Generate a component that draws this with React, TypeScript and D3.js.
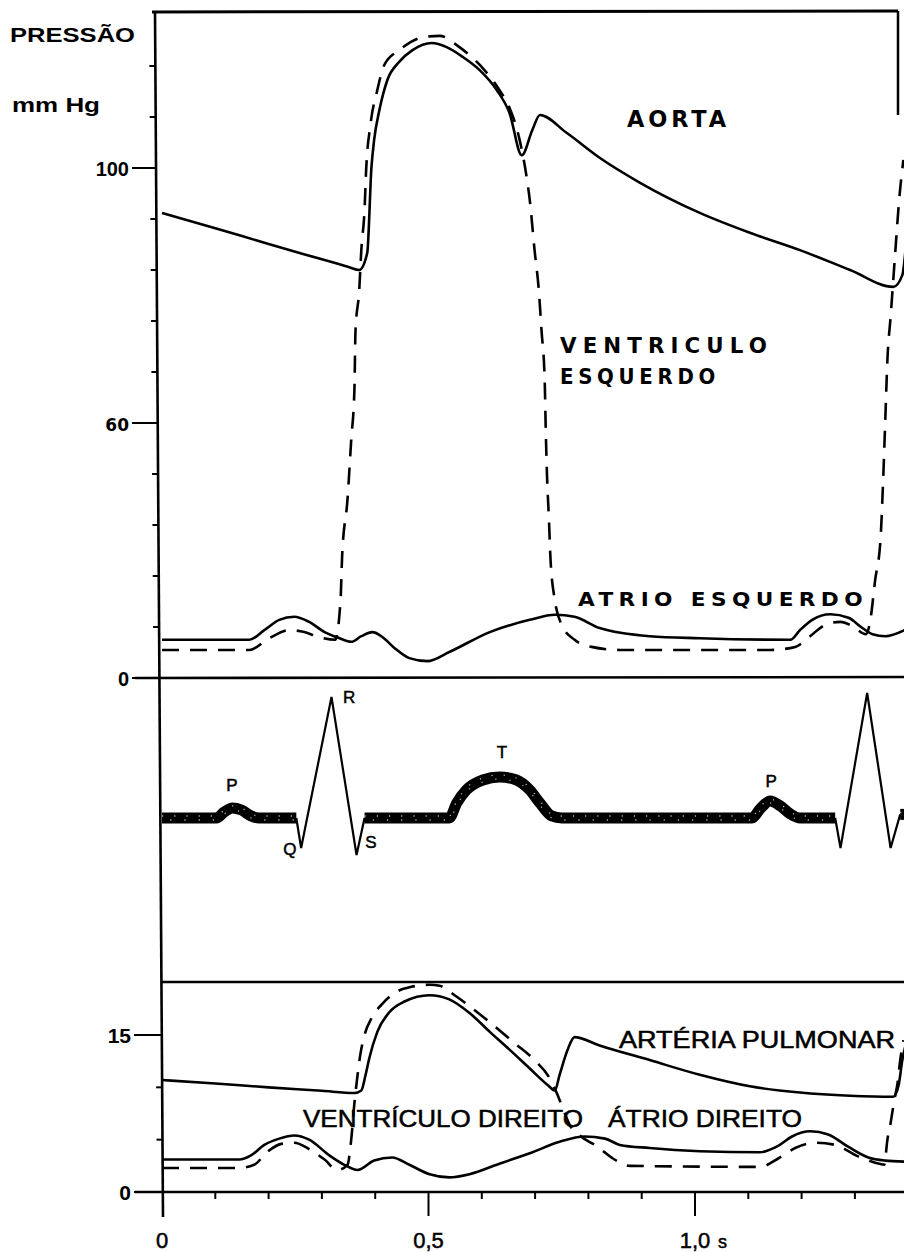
import React from "react";
import * as d3 from "d3";

// [time s, pressure mm Hg]
const aorta: [number, number][] = [
  [0, 91.2], [0.1, 88.2], [0.2, 85.1], [0.3, 82.1], [0.35, 80.6], [0.37, 80.0], [0.385, 83.3],
  [0.393, 100.2], [0.398, 105.5], [0.408, 111.4], [0.423, 117.3], [0.445, 120.8], [0.47, 123.1],
  [0.506, 124.5], [0.534, 123.7], [0.564, 121.8], [0.596, 119.2], [0.628, 115.3], [0.652, 110.8],
  [0.675, 102.5], [0.695, 107.5], [0.709, 110.4], [0.759, 106.9], [0.821, 102.0], [0.897, 97.1],
  [1.009, 91.2], [1.103, 87.3], [1.197, 83.9], [1.291, 80.0], [1.372, 76.7], [1.389, 79.0],
  [1.395, 84.0],
];

const leftVentricle: [number, number][] = [
  [0, 5.5], [0.164, 5.5], [0.201, 7.8], [0.239, 9.4], [0.267, 9.0], [0.295, 8.0], [0.325, 7.5],
  [0.335, 15.3], [0.338, 24], [0.348, 35], [0.355, 46.7], [0.361, 56.5], [0.363, 68], [0.37, 76],
  [0.374, 84], [0.38, 91.8], [0.383, 99.6], [0.391, 108.4], [0.404, 115.3], [0.417, 120.2],
  [0.445, 123.1], [0.492, 125.7], [0.521, 125.9], [0.558, 123.7], [0.605, 119.2], [0.633, 115.3],
  [0.652, 111.8], [0.671, 105.5], [0.682, 99.6], [0.69, 93.7], [0.699, 83.9], [0.707, 76],
  [0.712, 68.2], [0.718, 58.4], [0.72, 48.6], [0.722, 40.8], [0.726, 31], [0.729, 23.1],
  [0.737, 15.3], [0.75, 10.4], [0.774, 7.5], [0.806, 6.1], [0.859, 5.5], [1.141, 5.5],
  [1.188, 6.1], [1.216, 8.2], [1.244, 10.4], [1.273, 11.0], [1.295, 10.2], [1.321, 8.6],
  [1.329, 11.4], [1.338, 19.2], [1.348, 27.1], [1.353, 38.8], [1.357, 50.6], [1.361, 62.4],
  [1.367, 70.8], [1.376, 83.9], [1.383, 93.7], [1.391, 101.6],
];

const leftAtrium: [number, number][] = [
  [0, 7.5], [0.164, 7.5], [0.192, 9.4], [0.22, 11.4], [0.248, 12.0], [0.276, 11.0], [0.305, 9.0],
  [0.333, 7.8], [0.355, 7.1], [0.374, 8.2], [0.395, 9.0], [0.414, 8.0], [0.436, 5.9], [0.464, 3.9],
  [0.498, 3.3], [0.539, 5.1], [0.615, 9.0], [0.69, 11.4], [0.737, 12.4], [0.774, 12.0],
  [0.821, 9.8], [0.915, 8.2], [1.009, 7.8], [1.179, 7.5], [1.197, 9.4], [1.22, 11.4],
  [1.254, 12.5], [1.288, 11.8], [1.314, 9.8], [1.333, 8.6], [1.357, 8.2], [1.393, 9.4],
];

const pulmonaryArtery: [number, number][] = [
  [0, 10.7], [0.1, 10.36], [0.2, 10.0], [0.3, 9.67], [0.361, 9.46], [0.374, 9.7], [0.382, 11.2],
  [0.389, 12.8], [0.404, 15.3], [0.427, 17.2], [0.455, 18.2], [0.502, 18.8], [0.539, 18.4],
  [0.577, 17.1], [0.615, 15.3], [0.652, 13.6], [0.69, 11.8], [0.724, 10.2], [0.737, 9.7],
  [0.746, 11.2], [0.761, 13.6], [0.774, 14.8], [0.821, 14.0], [0.915, 12.6], [1.009, 11.2],
  [1.103, 10.1], [1.197, 9.5], [1.291, 9.2], [1.372, 9.1], [1.382, 10.2], [1.389, 12.6],
  [1.395, 14.0],
];

const rightVentricle: [number, number][] = [
  [0, 2.3], [0.145, 2.3], [0.173, 2.6], [0.197, 3.8], [0.224, 4.6], [0.248, 4.7], [0.276, 4.1],
  [0.305, 3.1], [0.329, 2.1], [0.348, 2.6], [0.355, 5.0], [0.361, 8.5], [0.367, 11.2],
  [0.372, 13.1], [0.38, 15.0], [0.393, 16.6], [0.412, 17.9], [0.436, 19.0], [0.468, 19.6],
  [0.502, 19.8], [0.521, 19.7], [0.549, 18.8], [0.581, 17.6], [0.62, 16.0], [0.662, 14.2],
  [0.699, 12.6], [0.727, 10.9], [0.742, 9.3], [0.752, 8.0], [0.765, 6.4], [0.784, 5.4],
  [0.818, 4.3], [0.846, 3.2], [0.878, 2.5], [1.122, 2.4], [1.156, 3.2], [1.188, 4.2],
  [1.226, 4.7], [1.263, 4.5], [1.306, 3.4], [1.338, 2.8], [1.355, 2.6], [1.361, 5.0],
  [1.367, 6.6], [1.374, 8.8], [1.38, 10.4], [1.385, 12.6], [1.391, 14.5],
];

const rightAtrium: [number, number][] = [
  [0, 3.1], [0.145, 3.1], [0.167, 3.5], [0.192, 4.5], [0.22, 5.1], [0.248, 5.4], [0.276, 5.0],
  [0.314, 3.5], [0.342, 2.6], [0.367, 2.1], [0.398, 3.0], [0.432, 3.3], [0.464, 2.6],
  [0.502, 1.7], [0.539, 1.4], [0.577, 1.7], [0.633, 2.7], [0.69, 3.7], [0.746, 4.8],
  [0.793, 5.3], [0.831, 5.1], [0.859, 4.5], [0.915, 4.2], [1.009, 3.9], [1.122, 3.8],
  [1.156, 4.4], [1.182, 5.3], [1.216, 5.8], [1.25, 5.5], [1.288, 4.3], [1.325, 3.3],
  [1.357, 3.0], [1.393, 2.9],
];

// ECG: [time s, amplitude relative to R]
const ecgWaves: [number, number][] = [
  [0, 0], [0.102, 0], [0.117, 0.05], [0.132, 0.083], [0.149, 0.066], [0.167, 0.017], [0.182, 0],
  [0.252, 0],
];
const ecgQrs1: [number, number][] = [[0.252, 0], [0.261, -0.248], [0.318, 1.0], [0.365, -0.306], [0.38, 0]];
const ecgMid: [number, number][] = [
  [0.38, 0], [0.539, 0], [0.553, 0.124], [0.571, 0.231], [0.602, 0.314], [0.633, 0.339],
  [0.665, 0.314], [0.69, 0.231], [0.709, 0.124], [0.731, 0.017], [0.75, 0], [1.107, 0],
  [1.122, 0.074], [1.141, 0.14], [1.16, 0.1], [1.179, 0.033], [1.197, 0], [1.263, 0],
];
const ecgQrs2: [number, number][] = [[1.263, 0], [1.273, -0.248], [1.323, 1.033], [1.367, -0.248], [1.385, 0.03]];
const ecgTail: [number, number][] = [[1.385, 0.03], [1.395, 0.03]];
const ecgLetters: [number, number, string][] = [
  [0.131, 0.22, "P"], [0.351, 0.95, "R"], [0.24, -0.306, "Q"], [0.392, -0.248, "S"],
  [0.638, 0.496, "T"], [1.143, 0.256, "P"],
];

const xTicks = [0, 0.1, 0.2, 0.3, 0.4, 0.5, 0.6, 0.7, 0.8, 0.9, 1.0, 1.1, 1.2, 1.3];
const xLongTicks = [0.5, 1.0];
const xTickLabels: [number, string][] = [[0, "0"], [0.5, "0,5"], [1.0, "1,0"]];
const topMinorTicks = [10, 20, 30, 40, 60, 70, 80, 90, 110, 120];
const topTickLabels: [number, string][] = [[100, "100"], [50, "60"], [0, "0"]];
const bottomMinorTicks = [5, 10];
const bottomTickLabels: [number, string][] = [[15, "15"], [0, "0"]];

const W = 904;
const H = 1252;

export default function App() {
  const x = d3.scaleLinear().domain([0, 1]).range([162, 695]);
  const yTop = d3.scaleLinear().domain([0, 100]).range([678, 168]);
  const yEcg = d3.scaleLinear().domain([0, 1]).range([818, 697]);
  const yBot = d3.scaleLinear().domain([0, 15]).range([1192, 1035]);

  const lineTop = d3.line<[number, number]>().x(d => x(d[0])).y(d => yTop(d[1])).curve(d3.curveMonotoneX);
  const lineBot = d3.line<[number, number]>().x(d => x(d[0])).y(d => yBot(d[1])).curve(d3.curveMonotoneX);
  const ecgSmooth = d3.line<[number, number]>().x(d => x(d[0])).y(d => yEcg(d[1])).curve(d3.curveMonotoneX);
  const ecgSharp = d3.line<[number, number]>().x(d => x(d[0])).y(d => yEcg(d[1]));

  // left axis is slightly slanted in the scan
  const axisX = (y: number) => 155 + ((y - 12) / 1205) * 8;

  const solid = { fill: "none", stroke: "#000", strokeWidth: 2.6, strokeLinejoin: "round" as const };
  const dashed = { ...solid, strokeDasharray: "17 11" };
  const band = (d: [number, number][], key: string) => (
    <g key={key}>
      <path d={ecgSmooth(d) || ""} fill="none" stroke="#000" strokeWidth={11} />
      <path d={ecgSmooth(d) || ""} fill="none" stroke="#fff" strokeWidth={1.3} strokeDasharray="1.2 11" transform="translate(0,-2)" opacity={0.7} />
      <path d={ecgSmooth(d) || ""} fill="none" stroke="#fff" strokeWidth={1.3} strokeDasharray="1.2 13" strokeDashoffset={6} transform="translate(0,2)" opacity={0.7} />
    </g>
  );

  const bold = { fontFamily: "Liberation Sans, Arial, sans-serif", fontWeight: 700, fill: "#000" };
  const block = { fontFamily: "DejaVu Sans, sans-serif", fontWeight: 700, fill: "#000" };
  const plain = { fontFamily: "Liberation Sans, Arial, sans-serif", fill: "#000", stroke: "#000", strokeWidth: 0.5 };

  return (
    <svg width={W} height={H} style={{ position: "absolute", left: 0, top: 0, background: "#fff" }}>
      <rect x={0} y={0} width={W} height={H} fill="#fff" />

      {/* frame */}
      <line x1={152} y1={12} x2={898} y2={11} stroke="#000" strokeWidth={3} />
      <line x1={898} y1={11} x2={898} y2={115} stroke="#000" strokeWidth={2.5} />
      <line x1={axisX(12)} y1={12} x2={axisX(1217)} y2={1217} stroke="#000" strokeWidth={2.6} />
      <line x1={135} y1={yTop(0)} x2={W} y2={yTop(0) - 1} stroke="#000" strokeWidth={2.6} />
      <line x1={axisX(982)} y1={982} x2={W} y2={982} stroke="#000" strokeWidth={2.6} />
      <line x1={135} y1={yBot(0)} x2={W} y2={yBot(0)} stroke="#000" strokeWidth={2.6} />

      {/* y ticks, top panel */}
      {topMinorTicks.map(v => (
        <line key={"tm" + v} x1={axisX(yTop(v)) - 6} y1={yTop(v)} x2={axisX(yTop(v))} y2={yTop(v)} stroke="#000" strokeWidth={2} />
      ))}
      {topTickLabels.map(([v, s]) => (
        <g key={"tl" + v}>
          <line x1={132} y1={yTop(v)} x2={axisX(yTop(v))} y2={yTop(v)} stroke="#000" strokeWidth={2} />
          <text x={129} y={yTop(v) + 8} textAnchor="end" fontSize={s === "60" ? 17 : 20} style={s === "60" ? block : bold}>{s}</text>
        </g>
      ))}
      {/* y ticks, bottom panel */}
      {bottomMinorTicks.map(v => (
        <line key={"bm" + v} x1={axisX(yBot(v)) - 6} y1={yBot(v)} x2={axisX(yBot(v))} y2={yBot(v)} stroke="#000" strokeWidth={2} />
      ))}
      {bottomTickLabels.map(([v, s]) => (
        <g key={"bl" + v}>
          <line x1={134} y1={yBot(v)} x2={axisX(yBot(v))} y2={yBot(v)} stroke="#000" strokeWidth={2} />
          <text x={131} y={yBot(v) + 8} textAnchor="end" fontSize={21} style={bold}>{s}</text>
        </g>
      ))}

      {/* x ticks */}
      {xTicks.filter(t => t > 0).map(t => (
        <line key={"xt" + t} x1={x(t)} y1={yBot(0)} x2={x(t)} y2={yBot(0) + (xLongTicks.includes(t) ? 24 : 7)} stroke="#000" strokeWidth={2} />
      ))}
      {xTickLabels.map(([t, s]) => (
        <text key={"xl" + t} x={x(t)} y={1248} textAnchor="middle" fontSize={22} style={plain}>{s}</text>
      ))}
      <text x={718} y={1248} fontSize={18} style={plain}>s</text>

      {/* titles */}
      <text x={10} y={42} fontSize={21} style={bold} textLength={125} lengthAdjust="spacingAndGlyphs">PRESSÃO</text>
      <text x={12} y={112} fontSize={20} style={bold} textLength={88} lengthAdjust="spacingAndGlyphs">mm  Hg</text>

      {/* top panel curves */}
      <path d={lineTop(aorta) || ""} style={solid} />
      <path d={lineTop(leftAtrium) || ""} style={solid} />
      <path d={lineTop(leftVentricle) || ""} style={dashed} />

      <text x={627} y={127} fontSize={23} letterSpacing={4} style={block} textLength={103} lengthAdjust="spacingAndGlyphs">AORTA</text>
      <text x={560} y={353} fontSize={21} letterSpacing={6} style={block} textLength={213} lengthAdjust="spacingAndGlyphs">VENTRICULO</text>
      <text x={560} y={384} fontSize={21} letterSpacing={5} style={block} textLength={160} lengthAdjust="spacingAndGlyphs">ESQUERDO</text>
      <text x={578} y={606} fontSize={20} letterSpacing={5} style={block} textLength={290} lengthAdjust="spacingAndGlyphs">ATRIO  ESQUERDO</text>

      {/* ECG */}
      {band(ecgWaves, "w1")}
      {band(ecgMid, "w2")}
      {band(ecgTail, "w3")}
      <path d={ecgSharp(ecgQrs1) || ""} fill="none" stroke="#000" strokeWidth={2.2} strokeLinejoin="miter" />
      <path d={ecgSharp(ecgQrs2) || ""} fill="none" stroke="#000" strokeWidth={2.2} strokeLinejoin="miter" />
      {ecgLetters.map(([t, v, s], i) => (
        <text key={"e" + i} x={x(t)} y={yEcg(v)} textAnchor="middle" fontSize={17} style={plain}>{s}</text>
      ))}

      {/* bottom panel curves */}
      <path d={lineBot(pulmonaryArtery) || ""} style={solid} />
      <path d={lineBot(rightAtrium) || ""} style={solid} />
      <path d={lineBot(rightVentricle) || ""} style={dashed} />

      <text x={619} y={1048} fontSize={23} style={plain} textLength={276} lengthAdjust="spacingAndGlyphs">ARTÉRIA PULMONAR</text>
      <text x={303} y={1127} fontSize={23} style={plain} textLength={280} lengthAdjust="spacingAndGlyphs">VENTRÍCULO DIREITO</text>
      <text x={608} y={1127} fontSize={23} style={plain} textLength={194} lengthAdjust="spacingAndGlyphs">ÁTRIO DIREITO</text>
    </svg>
  );
}
